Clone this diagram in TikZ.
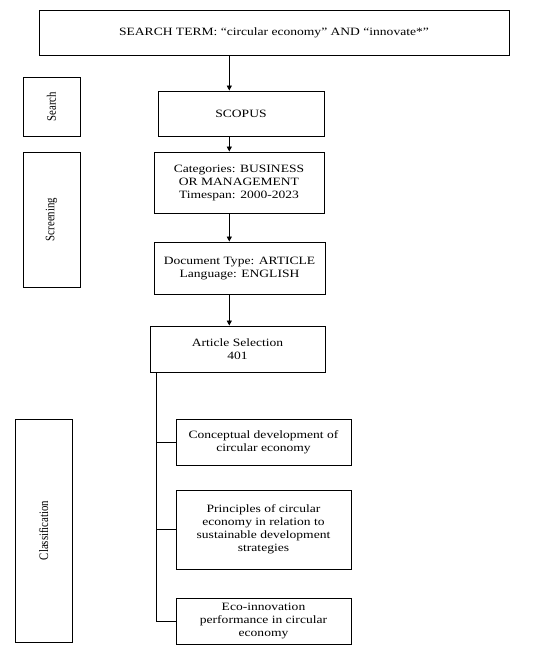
\documentclass[tikz,border=0pt]{standalone}
\usepackage{fontspec}
\setmainfont[FakeStretch=1.21]{Liberation Serif}
\newfontfamily\rotfont{Liberation Serif}
\usetikzlibrary{arrows.meta}
\newcommand{\tallrot}[1]{\scalebox{1}[1.2]{#1}}
\begin{document}
\begin{tikzpicture}[x=1pt,y=-1pt,
  box/.style={draw, line width=0.9pt, align=center, inner sep=2pt, font=\fontsize{11.2}{13}\selectfont},
  side/.style={draw, line width=0.9pt},
  rlabel/.style={rotate=90, font=\rotfont\fontsize{10.8}{13}\selectfont},
  arr/.style={line width=0.7pt, -{Triangle[length=5pt,width=5pt]}},
  con/.style={line width=0.7pt}]
\useasboundingbox (0,0) rectangle (541,661);
\node[box, minimum width=470pt, minimum height=45pt] (top) at (274,32.5) {SEARCH TERM: “circular economy” AND “innovate*”};
\node[side, minimum width=57pt, minimum height=59pt] (search) at (51.5,106.5) {};
\node[rlabel] (searcht) at (search.center) {\tallrot{Search}};
\node[box, minimum width=166pt, minimum height=45pt] (scopus) at (241,113.5) {SCOPUS};
\node[box, minimum width=170pt, minimum height=61pt] (cat) at (239,182.5) {Categories: BUSINESS\\OR MANAGEMENT\\Timespan: 2000-2023};
\node[side, minimum width=57pt, minimum height=135pt] (screen) at (51.5,219.5) {};
\node[rlabel] (screent) at (screen.center) {\tallrot{Screening}};
\node[box, minimum width=171pt, minimum height=52pt] (doc) at (239.5,268) {Document Type: ARTICLE\\Language: ENGLISH};
\node[box, minimum width=175pt, minimum height=46pt] (art) at (237.5,349) {Article Selection\\401};
\node[box, minimum width=175pt, minimum height=46pt] (conc) at (263.5,442) {Conceptual development of\\circular economy};
\node[box, minimum width=175pt, minimum height=79pt] (prin) at (263.5,529.5) {Principles of circular\\economy in relation to\\sustainable development\\strategies};
\node[box, minimum width=175pt, minimum height=46pt] (eco) at (263.5,621) {Eco-innovation\\performance in circular\\economy};
\node[side, minimum width=57pt, minimum height=223pt] (cls) at (43.5,530.5) {};
\node[rlabel] (clst) at (cls.center) {\tallrot{Classification}};
\coordinate (ax) at (229.3,0);
\coordinate (tr) at (156,0);
\draw[arr] (top.south -| ax) -- (scopus.north -| ax);
\draw[arr] (scopus.south -| ax) -- (cat.north -| ax);
\draw[arr] (cat.south -| ax) -- (doc.north -| ax);
\draw[arr] (doc.south -| ax) -- (art.north -| ax);
\draw[con] (art.south -| tr) |- (eco.west);
\draw[con] (conc.west) -- (conc.west -| tr);
\draw[con] (prin.west) -- (prin.west -| tr);
\end{tikzpicture}
\end{document}
